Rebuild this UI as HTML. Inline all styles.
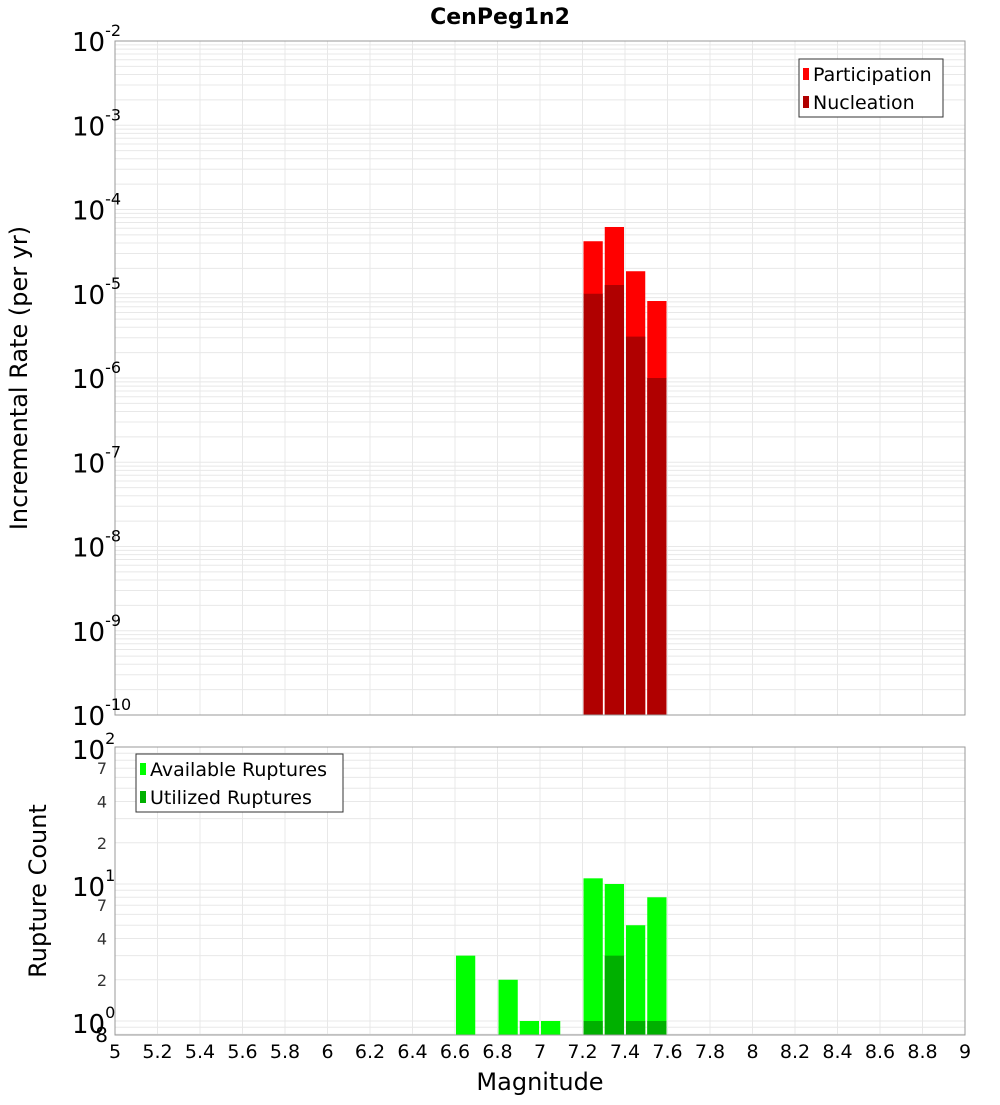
<!DOCTYPE html>
<html><head><meta charset="utf-8"><style>
body{margin:0;background:#fff;font-family:"Liberation Sans","DejaVu Sans",sans-serif;}
svg text{font-family:"DejaVu Sans","Liberation Sans",sans-serif;}
</style></head><body>
<svg id="chart" width="1000" height="1100" xmlns="http://www.w3.org/2000/svg"></svg>
<script>
const magBins = [7.25, 7.35, 7.45, 7.55];
const participation = [4.2e-5, 6.2e-5, 1.85e-5, 8.2e-6];
const nucleation = [1.0e-5, 1.27e-5, 3.1e-6, 1.0e-6];
const countBins = [6.65, 6.85, 6.95, 7.05, 7.25, 7.35, 7.45, 7.55];
const available = [3, 2, 1, 1, 11, 10, 5, 8];
const utilized = [0, 0, 0, 0, 1, 3, 1, 1];
const xTicks = [5,5.2,5.4,5.6,5.8,6,6.2,6.4,6.6,6.8,7,7.2,7.4,7.6,7.8,8,8.2,8.4,8.6,8.8,9];
const xTickLabels = ["5","5.2","5.4","5.6","5.8","6","6.2","6.4","6.6","6.8","7","7.2","7.4","7.6","7.8","8","8.2","8.4","8.6","8.8","9"];
const topExps = [-2,-3,-4,-5,-6,-7,-8,-9,-10];
const botMinor = [2,4,7,20,40,70];

const svg = document.getElementById('chart');
const NS = 'http://www.w3.org/2000/svg';
function mk(tag, attrs, parent){const e=document.createElementNS(NS,tag);for(const k in attrs)e.setAttribute(k,attrs[k]);(parent||svg).appendChild(e);return e;}
const L=115,R=965;
const xs = m => L + (m-5)/4*(R-L);
const T1=41,B1=715;
const yTop = v => T1 + (-2 - Math.log10(v))/8*(B1-T1);
const T2=747,B2=1035;
const dec2 = (1021-747)/2;
const yBot = v => T2 + (2 - Math.log10(v))*dec2;

let t=mk('text',{x:500,y:24,'text-anchor':'middle','font-size':22,'font-weight':'bold'});


t.textContent='CenPeg1n2';

function grid(T,B,ylines){
  const g=mk('g',{});
  
  
  xTicks.forEach(m=>mk('line',{x1:xs(m),x2:xs(m),y1:T,y2:B,stroke:'#e8e8e8','stroke-width':1},g));
  ylines.forEach(y=>{if(y>=T&&y<=B)mk('line',{x1:L,x2:R,y1:y,y2:y,stroke:'#e8e8e8','stroke-width':1},g);});
}
let tl=[];
for(let e=-10;e<-2;e++)for(let k=1;k<10;k++)tl.push(yTop(k*Math.pow(10,e)));
tl.push(yTop(1e-2));
grid(T1,B1,tl);
let bl=[];
for(let e=-1;e<2;e++)for(let k=1;k<10;k++)bl.push(yBot(k*Math.pow(10,e)));
grid(T2,B2,bl);

const bw = xs(5.1)-xs(5);
magBins.forEach((m,i)=>{
  let r=mk('rect',{x:xs(m)-bw/2+1,y:yTop(participation[i]),width:bw-2,height:B1-yTop(participation[i]),fill:'#ff0000'});
  
  
  let n=mk('rect',{x:xs(m)-bw/2+1,y:yTop(nucleation[i]),width:bw-2,height:B1-yTop(nucleation[i]),fill:'#b00000'});
  
  
});
countBins.forEach((m,i)=>{
  let r=mk('rect',{x:xs(m)-bw/2+1,y:yBot(available[i]),width:bw-2,height:B2-yBot(available[i]),fill:'#00ff00'});
  
  
  if(utilized[i]>0){
    let n=mk('rect',{x:xs(m)-bw/2+1,y:yBot(utilized[i]),width:bw-2,height:B2-yBot(utilized[i]),fill:'#00b000'});
    
    
  }
});
mk('rect',{x:L,y:T1,width:R-L,height:B1-T1,fill:'none',stroke:'#999'});
mk('rect',{x:L,y:T2,width:R-L,height:B2-T2,fill:'none',stroke:'#999'});

topExps.forEach(e=>{
  const y=yTop(Math.pow(10,e));
  let tx=mk('text',{x:72,y:y+10,'font-size':26});
  
  
  tx.textContent='10';
  let s=mk('tspan',{dy:-15,'font-size':16},tx);s.textContent=String(e);
});
[[100,'2'],[10,'1'],[1,'0']].forEach(([v,e])=>{
  const y=yBot(v);
  let tx=mk('text',{x:72,y:y+12,'font-size':26});
  
  
  tx.textContent='10';
  let s=mk('tspan',{dy:-15,'font-size':16},tx);s.textContent=e;
});
botMinor.forEach(v=>{
  let tx=mk('text',{x:107,y:yBot(v)+6,'font-size':16,'text-anchor':'end',fill:'#333'});
  
  
  tx.textContent=String(v).charAt(0);
});
let t8=mk('text',{x:108,y:1042,'font-size':20,'text-anchor':'end'});


t8.textContent='8';

xTicks.forEach((m,i)=>{
  let tx=mk('text',{x:xs(m),y:1058,'font-size':19,'text-anchor':'middle'});
  
  
  tx.textContent=xTickLabels[i];
});
let xt=mk('text',{x:540,y:1090,'font-size':24,'text-anchor':'middle'});


xt.textContent='Magnitude';
let yt=mk('text',{x:0,y:0,'font-size':24,'text-anchor':'middle',transform:'translate(27,378) rotate(-90)'});


yt.textContent='Incremental Rate (per yr)';
let yb=mk('text',{x:0,y:0,'font-size':24,'text-anchor':'middle',transform:'translate(46,891) rotate(-90)'});


yb.textContent='Rupture Count';

function legend(x,y,w,items,name){
  const g=mk('g',{});
  
  
  mk('rect',{x:x,y:y,width:w,height:58,fill:'#fff',stroke:'#333'},g);
  items.forEach(([c,lab],i)=>{
    mk('rect',{x:x+4,y:y+9+i*28,width:6,height:12,fill:c},g);
    let tx=mk('text',{x:x+14,y:y+22+i*28,'font-size':19},g);
    tx.textContent=lab;
  });
}
legend(799,59,144,[['#ff0000','Participation'],['#b00000','Nucleation']],'legend-top');
legend(136,754,207,[['#00ff00','Available Ruptures'],['#00b000','Utilized Ruptures']],'legend-bottom');
</script>
</body></html>
